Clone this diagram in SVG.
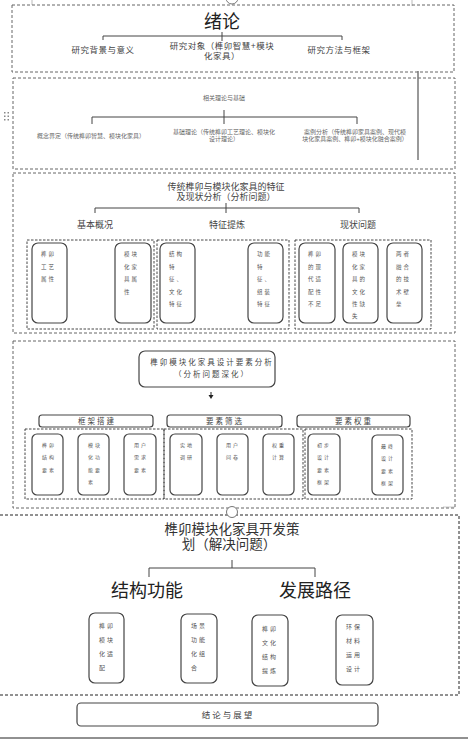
<svg xmlns="http://www.w3.org/2000/svg" width="468" height="745" viewBox="0 0 468 745">
<defs>
<style>
text{font-family:'Liberation Sans','Noto Sans CJK SC',sans-serif}
.sec{fill:none;stroke:#666;stroke-width:1;stroke-dasharray:3 2}
.sec5{fill:none;stroke:#222;stroke-width:1;stroke-dasharray:3 2}
.grp{fill:none;stroke:#333;stroke-width:0.9;stroke-dasharray:2.5 1.5}
.box{fill:#fff;stroke:#444;stroke-width:1.2}
.br{fill:none;stroke:#444;stroke-width:1}
.c{text-anchor:middle}
.t9{font-size:8.5px;fill:#444;letter-spacing:0.5px}
.tiny{font-size:6px;fill:#666}
.b3{font-size:5.5px;fill:#555;letter-spacing:2px}
.b4{font-size:5px;fill:#555;letter-spacing:2px}
.b5{font-size:6px;fill:#555;letter-spacing:2px}
.h4{font-size:7.5px;fill:#444;letter-spacing:2px}
</style>
</defs>
<rect width="468" height="745" fill="#fff"/>

<!-- artifacts -->
<g id="artifacts">
<circle cx="232" cy="-2" r="6" fill="#fff" stroke="#777" stroke-width="1"/>
<path d="M32,0 V5 M412,0 V6" stroke="#bbb" stroke-width="1"/>
<g fill="#888">
<rect x="4" y="112" width="1.5" height="1.5"/><rect x="7.5" y="112" width="1.5" height="1.5"/>
<rect x="4" y="115.5" width="1.5" height="1.5"/><rect x="7.5" y="115.5" width="1.5" height="1.5"/>
<rect x="4" y="119" width="1.5" height="1.5"/><rect x="7.5" y="119" width="1.5" height="1.5"/>
</g>
<path d="M443,507 H455" stroke="#ddd" stroke-width="1.5"/>
</g>

<!-- Section 1 -->
<g id="sec1">
<rect class="sec" x="12" y="5" width="442" height="67"/>
<text x="222" y="28" class="c" font-size="18" fill="#222">绪论</text>
<path class="br" d="M103,40 V36 H342 V40 M222,32 V41"/>
<text x="103" y="53" class="c t9">研究背景与意义</text>
<text x="222" y="49" class="c t9">研究对象（榫卯智慧+模块</text>
<text x="222" y="59" class="c t9">化家具）</text>
<text x="339" y="53" class="c t9">研究方法与框架</text>
</g>

<!-- Section 2 -->
<g id="sec2">
<rect class="sec" x="13" y="78" width="442" height="91"/>
<text x="224" y="100" class="c tiny">相关理论与基础</text>
<path class="br" d="M92,124 V117 H357 V124 M224,110 V124"/>
<text x="91" y="138" class="c tiny">概念界定（传统榫卯智慧、模块化家具）</text>
<text x="224" y="134" class="c tiny">基础理论（传统榫卯工艺理论、模块化</text>
<text x="224" y="141" class="c tiny">设计理论）</text>
<text x="355" y="134" class="c tiny">案例分析（传统榫卯家具案例、现代模</text>
<text x="355" y="141" class="c tiny">块化家具案例、榫卯+模块化融合案例）</text>
<path d="M418,71 V160" stroke="#777" stroke-width="1.5"/>
</g>

<!-- Section 3 -->
<g id="sec3">
<rect class="sec" x="13" y="173" width="442" height="160"/>
<text x="226" y="190" class="c" font-size="9" fill="#444">传统榫卯与模块化家具的特征</text>
<text x="226" y="200" class="c" font-size="9" fill="#444">及现状分析（分析问题）</text>
<path class="br" d="M95,213 V208 H359 V213 M226,203 V213"/>
<text x="95" y="228" class="c" font-size="9" fill="#444">基本概况</text>
<text x="227" y="228" class="c" font-size="9" fill="#444">特征提炼</text>
<text x="358" y="228" class="c" font-size="9" fill="#444">现状问题</text>
<rect class="grp" x="27" y="240" width="127" height="89"/>
<rect class="grp" x="157" y="240" width="132" height="89"/>
<rect class="grp" x="295" y="240" width="136" height="89"/>
</g>

<g id="n3a"><rect class="box" x="32" y="243" width="35" height="80" rx="6"/>
<text class="b3"><tspan x="41" y="256">榫卯</tspan><tspan x="41" y="268.5">工艺</tspan><tspan x="41" y="281">属性</tspan></text></g>
<g id="n3b"><rect class="box" x="115" y="243" width="36" height="80" rx="6"/>
<text class="b3"><tspan x="124" y="256">模块</tspan><tspan x="124" y="268.5">化家</tspan><tspan x="124" y="281">具属</tspan><tspan x="124" y="293.5">性</tspan></text></g>
<g id="n3c"><rect class="box" x="160" y="243" width="35" height="80" rx="6"/>
<text class="b3"><tspan x="169" y="256">结构</tspan><tspan x="169" y="268.5">特</tspan><tspan x="169" y="281">征、</tspan><tspan x="169" y="293.5">文化</tspan><tspan x="169" y="306">特征</tspan></text></g>
<g id="n3d"><rect class="box" x="248" y="243" width="35" height="80" rx="6"/>
<text class="b3"><tspan x="257" y="256">功能</tspan><tspan x="257" y="268.5">特</tspan><tspan x="257" y="281">征、</tspan><tspan x="257" y="293.5">组装</tspan><tspan x="257" y="306">特征</tspan></text></g>
<g id="n3e"><rect class="box" x="299" y="243" width="36" height="80" rx="6"/>
<text class="b3"><tspan x="308" y="256">榫卯</tspan><tspan x="308" y="268.5">的现</tspan><tspan x="308" y="281">代适</tspan><tspan x="308" y="293.5">配性</tspan><tspan x="308" y="306">不足</tspan></text></g>
<g id="n3f"><rect class="box" x="343" y="243" width="35" height="80" rx="6"/>
<text class="b3"><tspan x="352" y="256">模块</tspan><tspan x="352" y="268.5">化家</tspan><tspan x="352" y="281">具的</tspan><tspan x="352" y="293.5">文化</tspan><tspan x="352" y="306">性缺</tspan><tspan x="352" y="318">失</tspan></text></g>
<g id="n3g"><rect class="box" x="387" y="243" width="35" height="80" rx="6"/>
<text class="b3"><tspan x="396" y="256">两者</tspan><tspan x="396" y="268.5">融合</tspan><tspan x="396" y="281">的技</tspan><tspan x="396" y="293.5">术壁</tspan><tspan x="396" y="306">垒</tspan></text></g>

<!-- Section 4 -->
<g id="sec4">
<rect class="sec" x="13" y="341" width="442" height="167"/>
<rect class="grp" x="25" y="429" width="139" height="70"/>
<rect class="grp" x="164" y="429" width="139" height="70"/>
<rect class="grp" x="305" y="429" width="107" height="70"/>
</g>
<g id="n4h"><rect class="box" x="139" y="351" width="136" height="36" rx="6"/>
<text x="212" y="365" class="c h4">榫卯模块化家具设计要素分析</text>
<text x="212" y="377" class="c h4">（分析问题深化）</text></g>
<g id="n4a"><rect class="box" x="39" y="415" width="114" height="12" rx="3"/><text x="97" y="423.5" class="c h4">框架搭建</text></g>
<g id="n4b"><rect class="box" x="167" y="415" width="115" height="12" rx="3"/><text x="225" y="423.5" class="c h4">要素筛选</text></g>
<g id="n4c"><rect class="box" x="297" y="415" width="113" height="12" rx="3"/><text x="354" y="423.5" class="c h4">要素权重</text></g>

<g id="n4d"><rect class="box" x="32" y="434" width="31" height="61" rx="5"/>
<text class="b4"><tspan x="42" y="447">榫卯</tspan><tspan x="42" y="459">结构</tspan><tspan x="42" y="471.5">要素</tspan></text></g>
<g id="n4e"><rect class="box" x="78" y="434" width="31" height="61" rx="5"/>
<text class="b4"><tspan x="88" y="447">模块</tspan><tspan x="88" y="459">化功</tspan><tspan x="88" y="471.5">能要</tspan><tspan x="88" y="484">素</tspan></text></g>
<g id="n4f"><rect class="box" x="124" y="434" width="32" height="61" rx="5"/>
<text class="b4"><tspan x="134" y="447">用户</tspan><tspan x="134" y="459">需求</tspan><tspan x="134" y="471.5">要素</tspan></text></g>
<g id="n4g"><rect class="box" x="170" y="434" width="32" height="61" rx="5"/>
<text class="b4"><tspan x="180" y="447">实地</tspan><tspan x="180" y="459">调研</tspan></text></g>
<g id="n4h2"><rect class="box" x="217" y="434" width="31" height="61" rx="5"/>
<text class="b4"><tspan x="226" y="447">用户</tspan><tspan x="226" y="459">问卷</tspan></text></g>
<g id="n4i"><rect class="box" x="263" y="434" width="31" height="61" rx="5"/>
<text class="b4"><tspan x="272" y="447">权重</tspan><tspan x="272" y="459">计算</tspan></text></g>
<g id="n4j"><rect class="box" x="308" y="434" width="32" height="61" rx="5"/>
<text class="b4"><tspan x="317" y="447">初步</tspan><tspan x="317" y="459">设计</tspan><tspan x="317" y="471.5">要素</tspan><tspan x="317" y="484">框架</tspan></text></g>
<g id="n4k"><rect class="box" x="372" y="435" width="31" height="60" rx="5"/>
<text class="b4"><tspan x="381" y="448">最终</tspan><tspan x="381" y="460">设计</tspan><tspan x="381" y="472.5">要素</tspan><tspan x="381" y="485">框架</tspan></text></g>

<!-- Section 5 -->
<g id="sec5">
<path class="sec5" d="M0,515 H459 V695 H0"/>
<text x="232" y="534" class="c" font-size="13.5" fill="#333">榫卯模块化家具开发策</text>
<text x="229" y="549" class="c" font-size="13.5" fill="#333">划（解决问题）</text>
<path class="br" d="M149,577 V568 H315 V577 M232,560 V568"/>
<text x="147" y="597" class="c" font-size="18" fill="#222">结构功能</text>
<text x="315" y="597" class="c" font-size="18" fill="#222">发展路径</text>
</g>
<g id="n5a"><rect class="box" x="89" y="613" width="35" height="70" rx="6"/>
<text class="b5"><tspan x="99" y="628">榫卯</tspan><tspan x="99" y="642">模块</tspan><tspan x="99" y="656">化适</tspan><tspan x="99" y="670">配</tspan></text></g>
<g id="n5b"><rect class="box" x="181" y="614" width="36" height="69" rx="6"/>
<text class="b5"><tspan x="191" y="628">场景</tspan><tspan x="191" y="642">功能</tspan><tspan x="191" y="656">化组</tspan><tspan x="191" y="670">合</tspan></text></g>
<g id="n5c"><rect class="box" x="252" y="615" width="36" height="71" rx="6"/>
<text class="b5"><tspan x="262" y="631">榫卯</tspan><tspan x="262" y="645">文化</tspan><tspan x="262" y="659">结构</tspan><tspan x="262" y="673">提炼</tspan></text></g>
<g id="n5d"><rect class="box" x="336" y="615" width="37" height="70" rx="6"/>
<text class="b5"><tspan x="346" y="629">环保</tspan><tspan x="346" y="643">材料</tspan><tspan x="346" y="657">运用</tspan><tspan x="346" y="671">设计</tspan></text></g>

<g id="n6"><rect class="box" x="77" y="703" width="301" height="23" rx="4"/>
<text x="228" y="718" class="c" font-size="8.5" fill="#444" letter-spacing="2">结论与展望</text></g>

<g id="connectors">
<path d="M211,392 V396" stroke="#222" stroke-width="1"/>
<polygon points="208.5,395 213.5,395 211,399" fill="#222"/>
<circle cx="232" cy="512" r="5.5" fill="#fff" stroke="#777" stroke-width="1"/>
<path d="M0,738 H468" stroke="#222" stroke-width="1"/>
</g>
</svg>
